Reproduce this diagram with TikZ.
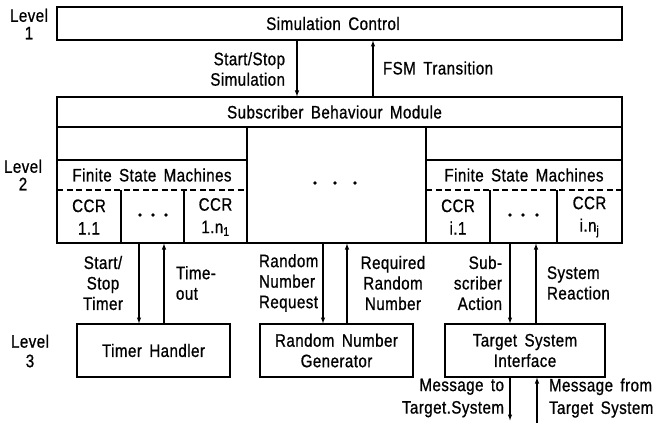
\documentclass[tikz,border=0pt]{standalone}
\usepackage{fontspec}
\setmainfont{Liberation Sans}[FakeStretch=0.84,FakeBold=0.8,LetterSpace=2.5,WordSpace=1.6]
\usetikzlibrary{arrows.meta}
\begin{document}
\begin{tikzpicture}[x=1pt,y=-1pt,line width=1.2pt,
  every node/.style={font=\fontsize{18}{20.5}\selectfont,inner sep=0pt,outer sep=0pt},
  box/.style={draw,rectangle,inner sep=0pt},
  flow/.style={-{Latex[length=6.5pt,width=4.5pt]}},
  sepline/.style={dash pattern=on 6pt off 3.5pt},
  dot/.style={circle,fill,inner sep=0pt,minimum size=3.8pt}]

\useasboundingbox (0,0) rectangle (662,428);

% level captions
\node[align=center] (lv1) at (29,24) {Level\\[-3pt]1};
\node[align=center] (lv2) at (23,175) {Level\\[-3pt]2};
\node[align=center] (lv3) at (30,351) {Level\\[-1pt]3};

% level 1
\node[box,minimum width=565pt,minimum height=33pt] (simctl) at (339.5,23.5) {};
\node (simtxt) at (333,23.5) {Simulation Control};

% level 2: subscriber behaviour module
\node[box,minimum width=565pt,minimum height=146pt] (sbm) at (339.5,170) {};
\node (sbmtxt) at (334.5,112) {Subscriber Behaviour Module};
\draw (57,127) -- (622,127);
\draw (247,127) -- (247,243);
\draw (426,127) -- (426,243);
\draw (57,160) -- (247,160);
\draw (426,160) -- (622,160);
\draw[sepline] (57,190) -- (247,190);
\draw[sepline] (426,190) -- (622,190);
\foreach \xx in {121,184,490,557} \draw (\xx,190) -- (\xx,243);

\node (fsmL) at (152,175) {Finite State Machines};
\node (fsmR) at (524,175) {Finite State Machines};
\node[align=center] (ccrA) at (89,217) {CCR\\[2pt]1.1};
\node[align=center] (ccrB) at (215.5,217) {CCR\\[2pt]1.n\textsubscript{1}};
\node[align=center] (ccrC) at (458,217) {CCR\\[2pt]i.1};
\node[align=center] (ccrD) at (589.5,217) {CCR\\[2pt]i.n\textsubscript{j}};

% ellipsis marks
\node[dot] (da1) at (140,215) {};
\node[dot] (da2) at (153,215) {};
\node[dot] (da3) at (166,215) {};
\node[dot] (dm1) at (315,183) {};
\node[dot] (dm2) at (335,183) {};
\node[dot] (dm3) at (355,183) {};
\node[dot] (db1) at (510,215) {};
\node[dot] (db2) at (523,215) {};
\node[dot] (db3) at (537,215) {};

% level 3
\node[box,minimum width=153pt,minimum height=53pt] (timer) at (153.5,350.5) {Timer Handler};
\node[box,align=center,minimum width=153pt,minimum height=53pt] (rng) at (336.5,350.5) {Random Number\\Generator};
\node[box,align=center,minimum width=160pt,minimum height=53pt] (tsi) at (525,350.5) {Target System\\Interface};

% connector columns
\coordinate (xs) at (297,0);
\coordinate (xf) at (373,0);
\coordinate (xt1) at (139,0);
\coordinate (xt2) at (164,0);
\coordinate (xr1) at (323,0);
\coordinate (xr2) at (347,0);
\coordinate (xi1) at (510,0);
\coordinate (xi2) at (536,0);
\coordinate (mto) at (510,421);
\coordinate (mfrom) at (537,423);

\draw[flow] (simctl.south -| xs) -- (sbm.north -| xs);
\draw[flow] (sbm.north -| xf) -- (simctl.south -| xf);
\draw[flow] (sbm.south -| xt1) -- (timer.north -| xt1);
\draw[flow] (timer.north -| xt2) -- (sbm.south -| xt2);
\draw[flow] (sbm.south -| xr1) -- (rng.north -| xr1);
\draw[flow] (rng.north -| xr2) -- (sbm.south -| xr2);
\draw[flow] (sbm.south -| xi1) -- (tsi.north -| xi1);
\draw[flow] (tsi.north -| xi2) -- (sbm.south -| xi2);
\draw[flow] (tsi.south -| mto) -- (mto);
\draw[flow] (mfrom) -- (tsi.south -| mfrom);

% connector labels
\node[align=right,anchor=east] (lss) at (285,69) {Start/Stop\\Simulation};
\node[anchor=west] (lfsm) at (383,68) {FSM Transition};
\node[align=center] (lst) at (103,283) {Start/\\Stop\\Timer};
\node[align=left,anchor=west] (lto) at (176,283) {Time-\\out};
\node[align=left,anchor=west] (lrr) at (259,283) {Random\\Number\\Request};
\node[align=center] (lrq) at (393,283) {Required\\Random\\Number};
\node[align=right,anchor=east] (lsa) at (502,283) {Sub-\\scriber\\Action};
\node[align=left,anchor=west] (lsr) at (547,283) {System\\Reaction};
\node[align=right,anchor=east] (lmt) at (504,398) {Message to\\[2pt]Target.System};
\node[align=left,anchor=west] (lmf) at (549,398) {Message from\\[2pt]Target System};
\end{tikzpicture}
\end{document}
